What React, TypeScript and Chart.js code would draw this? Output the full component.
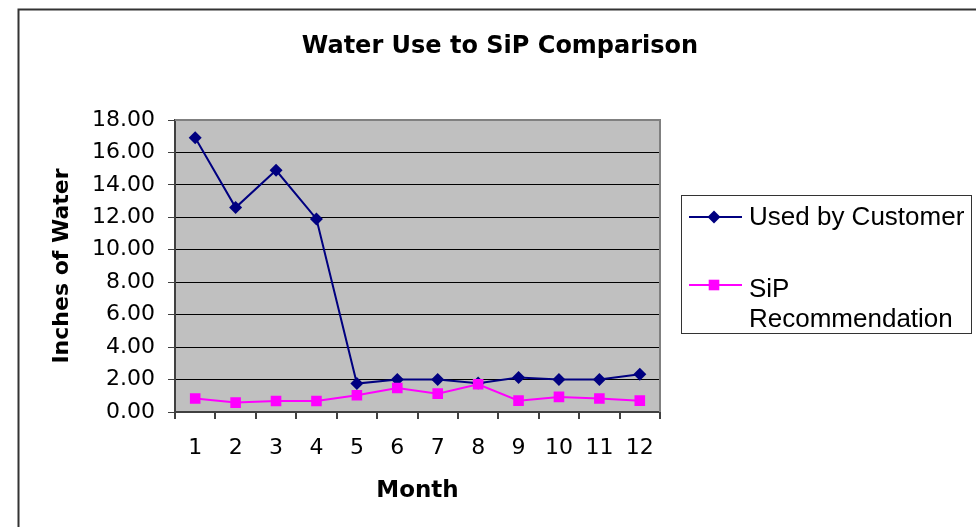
import React, { useEffect, useRef } from 'react';
import { Chart, registerables } from 'chart.js';

Chart.register(...registerables);

// ---- data ----
const months = ['1', '2', '3', '4', '5', '6', '7', '8', '9', '10', '11', '12'];
const usedByCustomer = [16.9, 12.6, 14.9, 11.9, 1.75, 2.0, 2.0, 1.78, 2.12, 2.0, 2.0, 2.33];
const sipRecommendation = [0.83, 0.58, 0.68, 0.68, 1.03, 1.48, 1.13, 1.71, 0.7, 0.93, 0.83, 0.7];
const seriesNames = ['Used by Customer', 'SiP Recommendation'];
const legendLines = [['Used by Customer'], ['SiP', 'Recommendation']];
const chartTitle = 'Water Use to SiP Comparison';
const xTitle = 'Month';
const yTitle = 'Inches of Water';
const yMin = 0;
const yMax = 18;
const yStep = 2;

const NAVY = '#000080';
const PINK = '#ff00ff';

function drawMarker(ctx: CanvasRenderingContext2D, style: string, x: number, y: number, r: number, color: string) {
  ctx.save();
  ctx.fillStyle = color;
  ctx.beginPath();
  if (style === 'rectRot') {
    ctx.moveTo(x - r, y);
    ctx.lineTo(x, y - r);
    ctx.lineTo(x + r, y);
    ctx.lineTo(x, y + r);
    ctx.closePath();
  } else {
    const s = Math.SQRT1_2 * r;
    ctx.rect(x - s, y - s, 2 * s, 2 * s);
  }
  ctx.fill();
  ctx.restore();
}

const decorPlugin = {
  id: 'decor',
  beforeDraw(chart: any) {
    const { ctx, chartArea: a } = chart;
    ctx.save();
    ctx.fillStyle = '#c0c0c0';
    ctx.fillRect(a.left, a.top, a.right - a.left, a.bottom - a.top);
    ctx.restore();
  },
  beforeDatasetsDraw(chart: any) {
    const { ctx, chartArea: a } = chart;
    ctx.save();
    ctx.strokeStyle = '#808080';
    ctx.lineWidth = 2;
    ctx.beginPath();
    ctx.moveTo(a.left, a.top);
    ctx.lineTo(a.right, a.top);
    ctx.lineTo(a.right, a.bottom);
    ctx.stroke();
    ctx.restore();
  },
  afterDraw(chart: any) {
    const { ctx } = chart;
    ctx.save();
    // outer frame
    ctx.strokeStyle = '#333333';
    ctx.lineWidth = 2;
    ctx.beginPath();
    ctx.moveTo(18.5, 527);
    ctx.lineTo(18.5, 9.5);
    ctx.lineTo(976, 9.5);
    ctx.stroke();

    // title
    ctx.fillStyle = '#000000';
    ctx.font = 'bold 24px "DejaVu Sans", sans-serif';
    ctx.textAlign = 'center';
    ctx.textBaseline = 'alphabetic';
    ctx.fillText(chartTitle, 500, 53);

    // legend box
    ctx.lineWidth = 1;
    ctx.strokeStyle = '#333333';
    ctx.strokeRect(681.5, 195.5, 290, 138);

    const rows = [
      { lineY: 217, baselines: [225] },
      { lineY: 285, baselines: [296.5, 326.5] },
    ];
    ctx.font = '26px "Liberation Sans", Arial, sans-serif';
    ctx.textBaseline = 'alphabetic';
    ctx.textAlign = 'left';
    chart.data.datasets.forEach((ds: any, i: number) => {
      const row = rows[i];
      ctx.strokeStyle = ds.borderColor;
      ctx.lineWidth = 2;
      ctx.beginPath();
      ctx.moveTo(689, row.lineY);
      ctx.lineTo(742, row.lineY);
      ctx.stroke();
      drawMarker(ctx, ds.pointStyle, 714, row.lineY, ds.pointRadius, ds.pointBackgroundColor);
      ctx.fillStyle = '#000000';
      legendLines[i].forEach((t, j) => ctx.fillText(t, 749, row.baselines[j]));
    });
    ctx.restore();
  },
};

export default function App() {
  const ref = useRef<HTMLCanvasElement | null>(null);

  useEffect(() => {
    if (!ref.current) return;
    const chart = new Chart(ref.current, {
      type: 'line',
      data: {
        labels: months,
        datasets: [
          {
            label: seriesNames[0],
            data: usedByCustomer,
            borderColor: NAVY,
            backgroundColor: NAVY,
            pointBackgroundColor: NAVY,
            pointBorderColor: NAVY,
            pointStyle: 'rectRot',
            pointRadius: 6.5,
            pointBorderWidth: 0,
            borderWidth: 2,
            tension: 0,
            order: 1,
          },
          {
            label: seriesNames[1],
            data: sipRecommendation,
            borderColor: PINK,
            backgroundColor: PINK,
            pointBackgroundColor: PINK,
            pointBorderColor: PINK,
            pointStyle: 'rect',
            pointRadius: 7.5,
            pointBorderWidth: 0,
            borderWidth: 2,
            tension: 0,
            order: 0,
          },
        ],
      },
      options: {
        responsive: false,
        animation: false,
        devicePixelRatio: 1,
        layout: { padding: { left: 0, right: 316, top: 120, bottom: 0 } },
        plugins: {
          legend: { display: false },
          tooltip: { enabled: false },
          title: { display: false },
        },
        scales: {
          x: {
            type: 'category',
            offset: true,
            grid: {
              offset: true,
              drawOnChartArea: false,
              drawTicks: true,
              tickLength: 7,
              color: '#404040',
              lineWidth: 2,
            },
            border: { display: true, color: '#404040', width: 2 },
            ticks: {
              color: '#000000',
              font: { family: '"DejaVu Sans", sans-serif', size: 22 },
              padding: 16,
              maxRotation: 0,
              autoSkip: false,
            },
            title: {
              display: true,
              text: xTitle,
              color: '#000000',
              font: { family: '"DejaVu Sans", sans-serif', size: 23, weight: 'bold' },
              padding: { top: 0, bottom: 22 },
            },
            afterFit(scale: any) {
              scale.height = 115;
            },
          },
          y: {
            min: yMin,
            max: yMax,
            ticks: {
              stepSize: yStep,
              color: '#000000',
              font: { family: '"DejaVu Sans", sans-serif', size: 22 },
              padding: 13,
              callback: (v: any) => Number(v).toFixed(2),
            },
            grid: {
              color: '#000000',
              lineWidth: 1,
              drawTicks: true,
              tickLength: 7,
              tickColor: '#404040',
            },
            border: { display: true, color: '#404040', width: 2 },
            title: {
              display: true,
              text: yTitle,
              color: '#000000',
              font: { family: '"DejaVu Sans", sans-serif', size: 22, weight: 'bold' },
              padding: { top: 49, bottom: 0 },
            },
            afterFit(scale: any) {
              scale.width = 175;
            },
          },
        },
      },
      plugins: [decorPlugin],
    } as any);
    return () => chart.destroy();
  }, []);

  return (
    <div style={{ position: 'absolute', left: 0, top: 0, width: 976, height: 527, background: '#ffffff' }}>
      <canvas ref={ref} width={976} height={527} style={{ display: 'block', width: 976, height: 527 }} />
    </div>
  );
}
